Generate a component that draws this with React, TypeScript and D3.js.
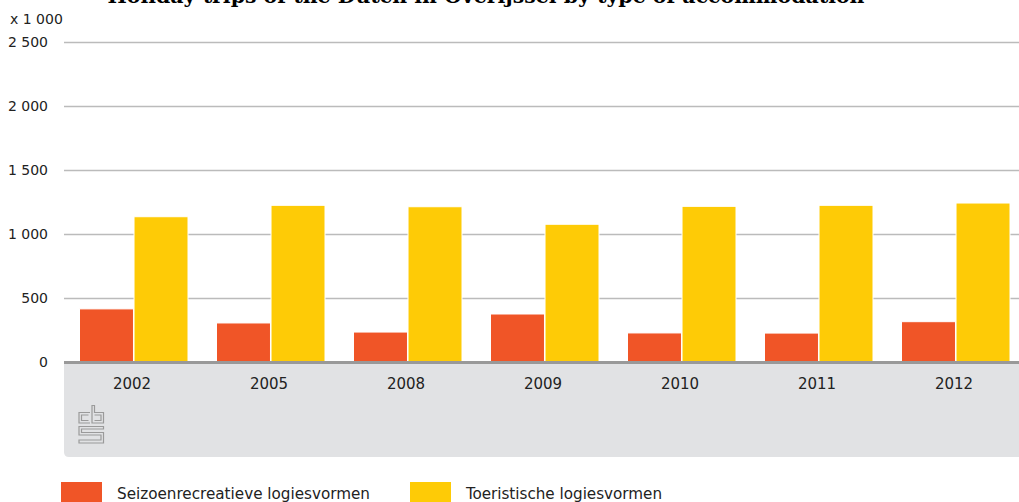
import React from "react";
import * as d3 from "d3";

const years = ["2002", "2005", "2008", "2009", "2010", "2011", "2012"];
const seriesNames = ["Seizoenrecreatieve logiesvormen", "Toeristische logiesvormen"];
const seizoen = [415, 305, 234, 375, 227, 226, 315];
const toeristisch = [1135, 1224, 1213, 1076, 1216, 1224, 1242];
const yTicks = [0, 500, 1000, 1500, 2000, 2500];
const colors = ["#f05527", "#fecb06"];
const title = "Holiday trips of the Dutch in Overijssel by type of accommodation";
const unitLabel = "x 1 000";

const W = 1019;
const H = 502;

function fmt(v: number) {
  return d3.format(",")(v).replace(/,/g, " ");
}

export default function App() {
  const x0 = d3.scaleBand<string>().domain(years).range([64.5, 1023.5]).padding(0);
  const x1 = d3
    .scaleBand<string>()
    .domain(seriesNames)
    .range([15, 123.5])
    .paddingInner(0.01)
    .paddingOuter(0);
  const y = d3.scaleLinear().domain([0, 2500]).range([362, 42]);
  const values = [seizoen, toeristisch];

  const panelTop = y(0);
  const panelBottom = 457;
  const r = 5;
  const px = 64;
  const panelPath = `M${px},${panelTop} H${W + 2} V${panelBottom} H${px + r} Q${px},${panelBottom} ${px},${panelBottom - r} Z`;

  const axisFont = "'DejaVu Sans', sans-serif";
  const legendX = [61, 410];
  const legendTextLen = [253, 196];

  return (
    <svg
      width={W}
      height={H}
      style={{ position: "fixed", left: 0, top: 0, background: "#fff" }}
    >
      {/* title */}
      <text
        x={486}
        y={2.5}
        textAnchor="middle"
        fontFamily="'DejaVu Serif', serif"
        fontWeight="bold"
        fontSize={20}
        textLength={757}
        lengthAdjust="spacingAndGlyphs"
        fill="#000"
      >
        {title}
      </text>

      {/* unit label */}
      <text x={10} y={24} fontFamily={axisFont} fontSize={14} fill="#222">
        {unitLabel}
      </text>

      {/* gridlines */}
      {yTicks
        .filter((t) => t > 0)
        .map((t) => (
          <line
            key={t}
            x1={64}
            x2={W}
            y1={Math.round(y(t)) + 0.5}
            y2={Math.round(y(t)) + 0.5}
            stroke="#bbbbbb"
            strokeWidth={1.3}
          />
        ))}

      {/* y tick labels */}
      {yTicks.map((t) => (
        <text
          key={t}
          x={48}
          y={y(t)}
          dy="0.36em"
          textAnchor="end"
          fontFamily={axisFont}
          fontSize={14}
          fill="#222"
        >
          {fmt(t)}
        </text>
      ))}

      {/* gray panel */}
      <path d={panelPath} fill="#e1e2e4" />

      {/* bars */}
      {years.map((yr, i) => (
        <g key={yr} transform={`translate(${x0(yr)},0)`}>
          {seriesNames.map((s, j) => (
            <rect
              key={s}
              x={x1(s)}
              y={y(values[j][i])}
              width={x1.bandwidth()}
              height={y(0) - y(values[j][i])}
              fill={colors[j]}
              stroke="#fff"
              strokeWidth={1}
            />
          ))}
        </g>
      ))}

      {/* zero line */}
      <line x1={64} x2={W} y1={y(0) + 0.5} y2={y(0) + 0.5} stroke="#999999" strokeWidth={3} />

      {/* x labels */}
      {years.map((yr) => (
        <text
          key={yr}
          x={(x0(yr) as number) + x0.bandwidth() / 2 - 1}
          y={384}
          dy="0.36em"
          textAnchor="middle"
          fontFamily={axisFont}
          fontSize={15}
          fill="#222"
        >
          {yr}
        </text>
      ))}

      {/* CBS logo */}
      <g fill="none" stroke="#9a9a9a" strokeWidth={1.2}>
        <path d="M90,412.5 H79 V423 H90" />
        <path d="M88.5,415 H81.5 V420.5 H88.5" />
        <path d="M92,405.5 V423 H103.5 V412.5 H94.5 V405.5 Z" />
        <path d="M94.5,415 H101 V420.5 H94.5" />
        <path d="M103.5,426.5 H79 V435 H101 V440 H79 V443 H103.5 V432.5 H81.5 V429 H103.5 Z" />
      </g>

      {/* legend */}
      {seriesNames.map((s, j) => (
        <g key={s}>
          <rect x={legendX[j]} y={482} width={41} height={22} fill={colors[j]} />
          <text
            x={legendX[j] + 56}
            y={499}
            fontFamily={axisFont}
            style={{ fontStretch: "condensed" }}
            fontSize={16}
            textLength={legendTextLen[j]}
            lengthAdjust="spacingAndGlyphs"
            fill="#222"
          >
            {s}
          </text>
        </g>
      ))}
    </svg>
  );
}
